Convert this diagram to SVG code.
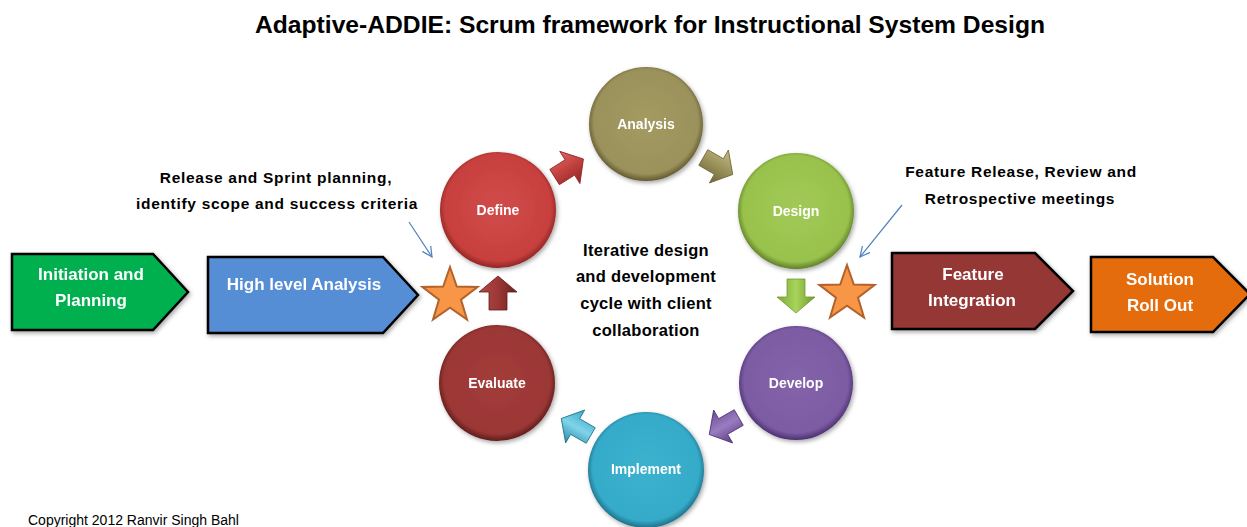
<svg xmlns="http://www.w3.org/2000/svg" width="1247" height="527" viewBox="0 0 1247 527">
  <defs>
    <style>
      .title{font-family:"Liberation Sans",Arial,sans-serif;font-weight:bold;font-size:24px;fill:#000;}
      .note{font-family:"Liberation Sans",Arial,sans-serif;font-weight:bold;font-size:15.5px;fill:#000;text-anchor:middle;letter-spacing:0.7px;}
      .center{font-family:"Liberation Sans",Arial,sans-serif;font-weight:bold;font-size:16.5px;fill:#000;text-anchor:middle;letter-spacing:0.3px;}
      .clabel{font-family:"Liberation Sans",Arial,sans-serif;font-weight:bold;font-size:14px;fill:#fff;text-anchor:middle;}
      .blabel{font-family:"Liberation Sans",Arial,sans-serif;font-weight:bold;font-size:17px;fill:#fff;text-anchor:middle;}
      .copy{font-family:"Liberation Sans",Arial,sans-serif;font-size:14px;fill:#000;}
      .phase{stroke:#000;stroke-width:2.5;stroke-linejoin:miter;}
      .star{fill:#F79646;stroke:#B2622A;stroke-width:2;stroke-linejoin:miter;}
      .pointer{fill:none;stroke:#4F81BD;stroke-width:1.2;}
    </style>
    <filter id="shadow" x="-20%" y="-20%" width="140%" height="140%">
      <feDropShadow dx="1.5" dy="2" stdDeviation="2" flood-color="#000" flood-opacity="0.35"/>
    </filter>
    <marker id="open" markerWidth="12" markerHeight="12" refX="10" refY="6" orient="auto" markerUnits="userSpaceOnUse">
      <path d="M0,1 L10,6 L0,11" fill="none" stroke="#4F81BD" stroke-width="1.2"/>
    </marker>
    <!-- circle fills: flat body, dark bevelled rim -->
    <radialGradient id="gRed" cx="50%" cy="48%" r="52%">
      <stop offset="0" stop-color="#D04C4A"/><stop offset="0.88" stop-color="#C8403E"/><stop offset="1" stop-color="#8E2624"/>
    </radialGradient>
    <radialGradient id="gOlive" cx="50%" cy="48%" r="52%">
      <stop offset="0" stop-color="#A49B62"/><stop offset="0.88" stop-color="#9A915B"/><stop offset="1" stop-color="#625A30"/>
    </radialGradient>
    <radialGradient id="gGreen" cx="50%" cy="48%" r="52%">
      <stop offset="0" stop-color="#A2C957"/><stop offset="0.88" stop-color="#98C24C"/><stop offset="1" stop-color="#5F7E28"/>
    </radialGradient>
    <radialGradient id="gPurple" cx="50%" cy="48%" r="52%">
      <stop offset="0" stop-color="#8464AA"/><stop offset="0.88" stop-color="#7C5BA3"/><stop offset="1" stop-color="#4C3170"/>
    </radialGradient>
    <radialGradient id="gCyan" cx="50%" cy="48%" r="52%">
      <stop offset="0" stop-color="#3CB2CF"/><stop offset="0.88" stop-color="#35ABC9"/><stop offset="1" stop-color="#1E7088"/>
    </radialGradient>
    <radialGradient id="gMaroon" cx="50%" cy="48%" r="52%">
      <stop offset="0" stop-color="#A23C3A"/><stop offset="0.88" stop-color="#9B3735"/><stop offset="1" stop-color="#5E1C1B"/>
    </radialGradient>
    <!-- block arrow fills -->
    <linearGradient id="aRed" x1="0" y1="0" x2="0" y2="1">
      <stop offset="0" stop-color="#E06462"/><stop offset="0.5" stop-color="#C0403E"/><stop offset="1" stop-color="#8E2624"/>
    </linearGradient>
    <linearGradient id="aOlive" x1="0" y1="0" x2="0" y2="1">
      <stop offset="0" stop-color="#C4BC86"/><stop offset="0.5" stop-color="#9A915B"/><stop offset="1" stop-color="#6E6638"/>
    </linearGradient>
    <linearGradient id="aGreen" x1="0" y1="0" x2="0" y2="1">
      <stop offset="0" stop-color="#6F9A2E"/><stop offset="0.5" stop-color="#A8D45A"/><stop offset="1" stop-color="#7EA83A"/>
    </linearGradient>
    <linearGradient id="aPurple" x1="0" y1="0" x2="0" y2="1">
      <stop offset="0" stop-color="#5A3C82"/><stop offset="0.5" stop-color="#9A7CC2"/><stop offset="1" stop-color="#6C4C96"/>
    </linearGradient>
    <linearGradient id="aCyan" x1="0" y1="0" x2="0" y2="1">
      <stop offset="0" stop-color="#2A8AA6"/><stop offset="0.5" stop-color="#7FD4EA"/><stop offset="1" stop-color="#3AA8C6"/>
    </linearGradient>
    <linearGradient id="aMaroon" x1="0" y1="0" x2="0" y2="1">
      <stop offset="0" stop-color="#B04A48"/><stop offset="0.5" stop-color="#9B3735"/><stop offset="1" stop-color="#6A2120"/>
    </linearGradient>
    <!-- block arrow pointing right, centred on the origin -->
    <path id="blk" d="M-17,-9 L1,-9 L1,-19 L17,0 L1,19 L1,9 L-17,9 Z"/>
    <!-- five-pointed star, outer radius 29 -->
    <polygon id="star5" points="0,-29 6.8,-9.4 27.6,-9 11,3.6 17,23.5 0,11.6 -17,23.5 -11,3.6 -27.6,-9 -6.8,-9.4"/>
  </defs>

  <rect width="1247" height="527" fill="#fff"/>

  <text class="title" x="650" y="33" text-anchor="middle" textLength="790" lengthAdjust="spacingAndGlyphs">Adaptive-ADDIE: Scrum framework for Instructional System Design</text>

  <!-- linear phases -->
  <g id="initiation" filter="url(#shadow)">
    <path class="phase" d="M12,254 H153 L188,292 L153,330 H12 Z" fill="#00B050"/>
    <text class="blabel" x="91" y="280">Initiation and</text>
    <text class="blabel" x="91" y="306">Planning</text>
  </g>
  <g id="high-level-analysis" filter="url(#shadow)">
    <path class="phase" d="M208,257 H383 L418,295 L383,333 H208 Z" fill="#558ED5"/>
    <text class="blabel" x="304" y="290">High level Analysis</text>
  </g>
  <g id="feature-integration" filter="url(#shadow)">
    <path class="phase" d="M892,253 H1035 L1073,291 L1035,329 H892 Z" fill="#953735"/>
    <text class="blabel" x="973" y="280">Feature</text>
    <text class="blabel" x="972" y="306">Integration</text>
  </g>
  <g id="solution-roll-out" filter="url(#shadow)">
    <path class="phase" d="M1091,257 H1213 L1250,294 L1213,332 H1091 Z" fill="#E46C0A"/>
    <text class="blabel" x="1160" y="285">Solution</text>
    <text class="blabel" x="1160" y="311">Roll Out</text>
  </g>

  <!-- sprint stars -->
  <g id="star-left"><use href="#star5" class="star" x="450" y="296"/></g>
  <g id="star-right"><use href="#star5" class="star" x="847" y="294"/></g>

  <!-- cycle steps -->
  <g id="define" filter="url(#shadow)">
    <circle cx="498" cy="210" r="58" fill="url(#gRed)"/>
    <text class="clabel" x="498" y="215">Define</text>
  </g>
  <g id="analysis" filter="url(#shadow)">
    <circle cx="646" cy="124" r="57" fill="url(#gOlive)"/>
    <text class="clabel" x="646" y="129">Analysis</text>
  </g>
  <g id="design" filter="url(#shadow)">
    <circle cx="796" cy="211" r="58" fill="url(#gGreen)"/>
    <text class="clabel" x="796" y="216">Design</text>
  </g>
  <g id="develop" filter="url(#shadow)">
    <circle cx="796" cy="383" r="57" fill="url(#gPurple)"/>
    <text class="clabel" x="796" y="388">Develop</text>
  </g>
  <g id="implement" filter="url(#shadow)">
    <circle cx="646" cy="470" r="58" fill="url(#gCyan)"/>
    <text class="clabel" x="646" y="474">Implement</text>
  </g>
  <g id="evaluate" filter="url(#shadow)">
    <circle cx="497" cy="383" r="58" fill="url(#gMaroon)"/>
    <text class="clabel" x="497" y="388">Evaluate</text>
  </g>

  <!-- connectors: block arrows around the cycle and annotation pointers -->
  <g id="connectors">
    <use href="#blk" fill="url(#aRed)" stroke="#8E2624" stroke-width="0.8" transform="translate(569,168) rotate(-32)"/>
    <use href="#blk" fill="url(#aOlive)" stroke="#6E6638" stroke-width="0.8" transform="translate(718,166) rotate(30)"/>
    <use href="#blk" fill="url(#aGreen)" stroke="#6F9A2E" stroke-width="0.8" transform="translate(796,296) rotate(90)"/>
    <use href="#blk" fill="url(#aPurple)" stroke="#4C3170" stroke-width="0.8" transform="translate(724,426) rotate(150)"/>
    <use href="#blk" fill="url(#aCyan)" stroke="#1E7088" stroke-width="0.8" transform="translate(576,427) rotate(-150)"/>
    <use href="#blk" fill="url(#aMaroon)" stroke="#5E1C1B" stroke-width="0.8" transform="translate(498,293) rotate(-90)"/>
    <line class="pointer" x1="409" y1="222" x2="432" y2="257" marker-end="url(#open)"/>
    <line class="pointer" x1="902" y1="205" x2="860" y2="257" marker-end="url(#open)"/>
  </g>

  <!-- annotations -->
  <text class="note" x="276" y="183">Release and Sprint planning,</text>
  <text class="note" x="277" y="209">identify scope and success criteria</text>
  <text class="note" x="1021" y="177">Feature Release, Review and</text>
  <text class="note" x="1020" y="204">Retrospective meetings</text>

  <text class="center" x="646" y="256">Iterative design</text>
  <text class="center" x="646" y="282">and development</text>
  <text class="center" x="646" y="309">cycle with client</text>
  <text class="center" x="646" y="336">collaboration</text>

  <text class="copy" x="28" y="525">Copyright 2012 Ranvir Singh Bahl</text>
</svg>
